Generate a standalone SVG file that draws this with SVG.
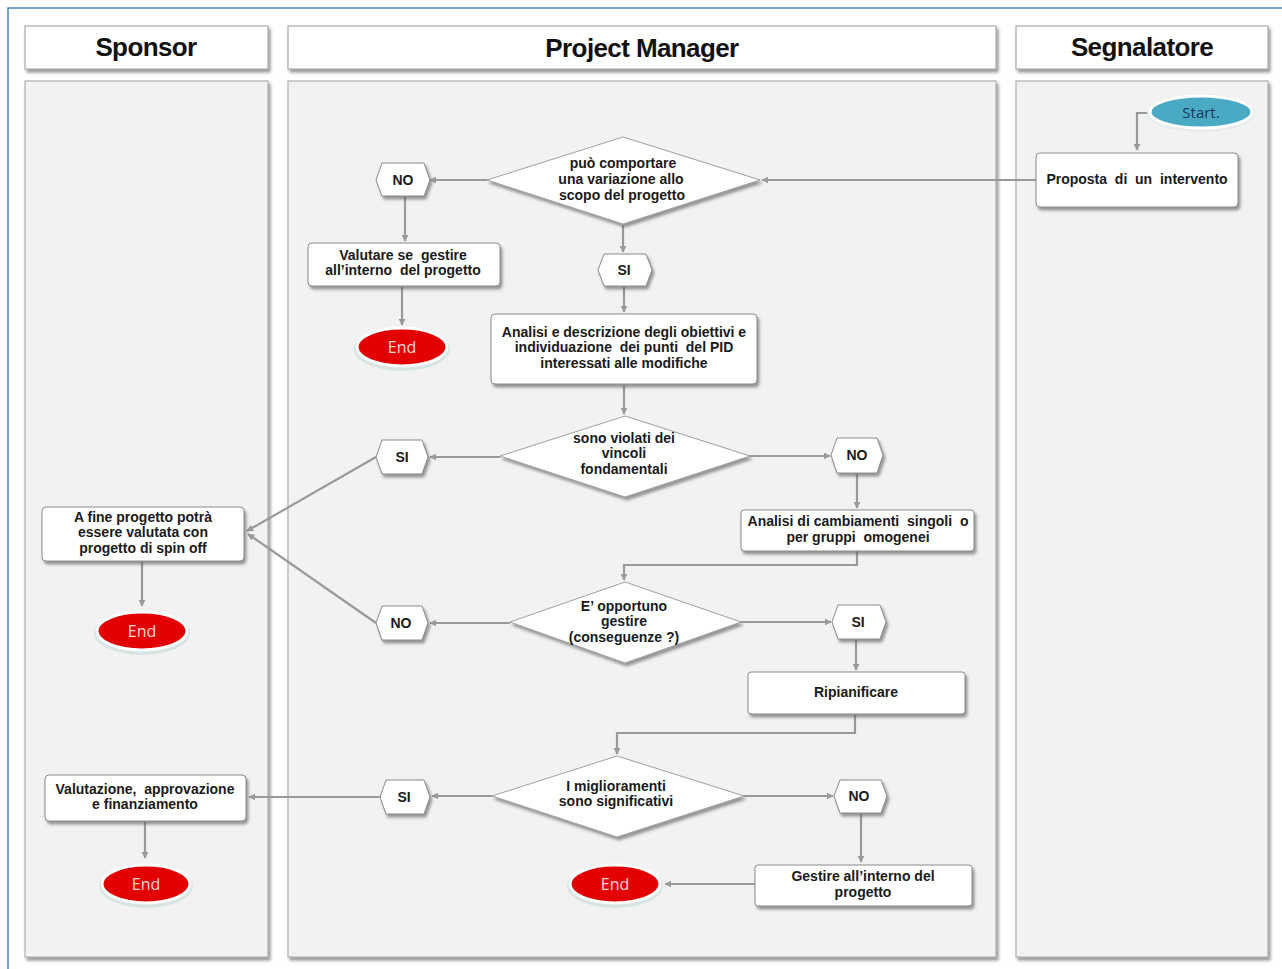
<svg xmlns="http://www.w3.org/2000/svg" width="1282" height="969" viewBox="0 0 1282 969">
<defs>
<filter id="sh" x="-10%" y="-10%" width="130%" height="140%">
<feDropShadow dx="2" dy="3" stdDeviation="1.5" flood-color="#555" flood-opacity="0.6"/>
</filter>
<marker id="ar" viewBox="0 0 10 10" refX="9" refY="5" markerWidth="7" markerHeight="7" orient="auto-start-reverse" markerUnits="userSpaceOnUse">
<path d="M0,0 L10,5 L0,10 z" fill="#9a9a9a"/>
</marker>
<style>
.lane{fill:#f2f2f2;stroke:#b0b0b0;stroke-width:1.2}
.hdr{fill:#fff;stroke:#aaa;stroke-width:1.2}
.ht{font-family:"Liberation Sans",Arial,sans-serif;font-weight:bold;font-size:26px;fill:#111;text-anchor:middle;letter-spacing:-0.6px}
.box{fill:#fff;stroke:#8a8a8a;stroke-width:1}
.dia{fill:#fff;stroke:#a0a0a0;stroke-width:1}
.t{font-family:"Liberation Sans",Arial,sans-serif;font-weight:bold;font-size:14px;fill:#1a1a1a;text-anchor:middle;white-space:pre}
.c{fill:none;stroke:#9a9a9a;stroke-width:2.2;marker-end:url(#ar)}
.end{fill:#e30000;stroke:#fff;stroke-width:3}
.endo{fill:#d8e4e4}
.et{font-family:"Open Sans","Liberation Sans",sans-serif;font-size:16px;fill:#ffd6d6;text-anchor:middle}
</style>
</defs>
<rect x="0" y="0" width="1282" height="969" fill="#fff"/>
<path d="M8,969 L8,8 L1282,8" fill="none" stroke="#4f81bd" stroke-width="1.5"/>

<g id="lanes">
<rect class="lane" x="25" y="81" width="243" height="876" filter="url(#sh)"/>
<rect class="lane" x="288" y="81" width="708" height="876" filter="url(#sh)"/>
<rect class="lane" x="1016" y="81" width="252" height="876" filter="url(#sh)"/>
</g>
<g id="header-sponsor"><rect class="hdr" x="25" y="26" width="243" height="43" filter="url(#sh)"/><text class="ht" x="146" y="56">Sponsor</text></g>
<g id="header-pm"><rect class="hdr" x="288" y="26" width="708" height="43" filter="url(#sh)"/><text class="ht" x="642" y="57">Project Manager</text></g>
<g id="header-segnalatore"><rect class="hdr" x="1016" y="26" width="252" height="43" filter="url(#sh)"/><text class="ht" x="1142" y="56">Segnalatore</text></g>

<g id="connectors">
<path class="c" d="M1150,113 L1137,113 L1137,150"/>
<path class="c" d="M1036,180 L762,180"/>
<path class="c" d="M487,180 L430,180"/>
<path class="c" d="M405,196 L405,241"/>
<path class="c" d="M402,287 L402,325"/>
<path class="c" d="M623,225 L623,252"/>
<path class="c" d="M624,287 L624,312"/>
<path class="c" d="M624,385 L624,414"/>
<path class="c" d="M500,457 L430,457"/>
<path class="c" d="M750,456 L830,456"/>
<path class="c" d="M857,474 L857,508"/>
<path class="c" d="M857,551 L857,565 L624,565 L624,580"/>
<path class="c" d="M510,623 L430,623"/>
<path class="c" d="M741,622 L831,622"/>
<path class="c" d="M856,640 L856,670"/>
<path class="c" d="M855,715 L855,733 L617,733 L617,754"/>
<path class="c" d="M492,796 L432,796"/>
<path class="c" d="M744,796 L833,796"/>
<path class="c" d="M861,814 L861,862"/>
<path class="c" d="M755,884 L665,884"/>
<path class="c" d="M376,457 L247,531"/>
<path class="c" d="M376,623 L248,534"/>
<path class="c" d="M380,797 L249,797"/>
<path class="c" d="M142,562 L142,606"/>
<path class="c" d="M145,822 L145,858"/>
</g>

<g id="start">
<ellipse cx="1201" cy="113" rx="54" ry="19" fill="#e6ecec"/>
<ellipse cx="1201" cy="112" rx="51" ry="16" fill="#4aaac4" stroke="#fff" stroke-width="3"/>
<text x="1201" y="118" font-family="'Open Sans','Liberation Sans',sans-serif" font-size="15" fill="#17375e" text-anchor="middle">Start.</text>
</g>
<g id="proposta">
<rect class="box" x="1036" y="153" width="202" height="54" rx="4" filter="url(#sh)"/>
<text class="t" x="1137" y="184">Proposta  di  un  intervento</text>
</g>
<g id="dec1">
<polygon class="dia" points="623,137 760,180 623,224 487,180" filter="url(#sh)"/>
<text class="t" x="623" y="168">può comportare</text>
<text class="t" x="621" y="184">una variazione allo</text>
<text class="t" x="622" y="200">scopo del progetto</text>
</g>
<g id="no1">
<polygon class="box" points="376,180 382,163 424,163 430,180 424,196 382,196" filter="url(#sh)"/>
<text class="t" x="403" y="185">NO</text>
</g>
<g id="valutare">
<rect class="box" x="308" y="243" width="192" height="43" rx="4" filter="url(#sh)"/>
<text class="t" x="403" y="260">Valutare se  gestire</text>
<text class="t" x="403" y="275">all’interno  del progetto</text>
</g>
<g id="end1">
<ellipse cx="402" cy="349" rx="48" ry="22" class="endo"/>
<ellipse cx="402" cy="347" rx="45" ry="19" class="end"/>
<text class="et" x="402" y="353">End</text>
</g>
<g id="si1">
<polygon class="box" points="598,270 604,254 646,254 652,270 646,286 604,286" filter="url(#sh)"/>
<text class="t" x="624" y="275">SI</text>
</g>
<g id="analisi">
<rect class="box" x="491" y="314" width="266" height="70" rx="4" filter="url(#sh)"/>
<text class="t" x="624" y="337">Analisi e descrizione degli obiettivi e</text>
<text class="t" x="624" y="352">individuazione  dei punti  del PID</text>
<text class="t" x="624" y="368">interessati alle modifiche</text>
</g>
<g id="dec2">
<polygon class="dia" points="625,416 750,456 625,497 500,456" filter="url(#sh)"/>
<text class="t" x="624" y="443">sono violati dei</text>
<text class="t" x="624" y="458">vincoli</text>
<text class="t" x="624" y="474">fondamentali</text>
</g>
<g id="si2">
<polygon class="box" points="376,457 382,440 422,440 428,457 422,474 382,474" filter="url(#sh)"/>
<text class="t" x="402" y="462">SI</text>
</g>
<g id="no2">
<polygon class="box" points="831,455 837,438 877,438 883,455 877,473 837,473" filter="url(#sh)"/>
<text class="t" x="857" y="460">NO</text>
</g>
<g id="analisi-cambiamenti">
<rect class="box" x="741" y="510" width="233" height="41" rx="3" filter="url(#sh)"/>
<text class="t" x="858" y="526">Analisi di cambiamenti  singoli  o</text>
<text class="t" x="858" y="542">per gruppi  omogenei</text>
</g>
<g id="dec3">
<polygon class="dia" points="625,582 741,622 625,663 510,622" filter="url(#sh)"/>
<text class="t" x="624" y="611">E’ opportuno</text>
<text class="t" x="624" y="626">gestire</text>
<text class="t" x="624" y="642">(conseguenze ?)</text>
</g>
<g id="no3">
<polygon class="box" points="376,623 382,606 422,606 428,623 422,640 382,640" filter="url(#sh)"/>
<text class="t" x="401" y="628">NO</text>
</g>
<g id="si3">
<polygon class="box" points="832,622 838,605 880,605 886,622 880,639 838,639" filter="url(#sh)"/>
<text class="t" x="858" y="627">SI</text>
</g>
<g id="ripianificare">
<rect class="box" x="748" y="672" width="217" height="42" rx="3" filter="url(#sh)"/>
<text class="t" x="856" y="697">Ripianificare</text>
</g>
<g id="dec4">
<polygon class="dia" points="617,756 744,796 617,837 492,796" filter="url(#sh)"/>
<text class="t" x="616" y="791">I miglioramenti</text>
<text class="t" x="616" y="806">sono significativi</text>
</g>
<g id="si4">
<polygon class="box" points="380,797 386,780 424,780 430,797 424,814 386,814" filter="url(#sh)"/>
<text class="t" x="404" y="802">SI</text>
</g>
<g id="no4">
<polygon class="box" points="834,796 840,780 881,780 887,796 881,813 840,813" filter="url(#sh)"/>
<text class="t" x="859" y="801">NO</text>
</g>
<g id="gestire">
<rect class="box" x="755" y="865" width="217" height="41" rx="3" filter="url(#sh)"/>
<text class="t" x="863" y="881">Gestire all’interno del</text>
<text class="t" x="863" y="897">progetto</text>
</g>
<g id="end-pm">
<ellipse cx="615" cy="886" rx="48" ry="22" class="endo"/>
<ellipse cx="615" cy="884" rx="45" ry="19" class="end"/>
<text class="et" x="615" y="890">End</text>
</g>
<g id="afine">
<rect class="box" x="42" y="507" width="202" height="54" rx="4" filter="url(#sh)"/>
<text class="t" x="143" y="522">A fine progetto potrà</text>
<text class="t" x="143" y="537">essere valutata con</text>
<text class="t" x="143" y="553">progetto di spin off</text>
</g>
<g id="end-sp1">
<ellipse cx="142" cy="633" rx="48" ry="22" class="endo"/>
<ellipse cx="142" cy="631" rx="45" ry="19" class="end"/>
<text class="et" x="142" y="637">End</text>
</g>
<g id="valutazione">
<rect class="box" x="45" y="775" width="201" height="46" rx="4" filter="url(#sh)"/>
<text class="t" x="145" y="794">Valutazione,  approvazione</text>
<text class="t" x="145" y="809">e finanziamento</text>
</g>
<g id="end-sp2">
<ellipse cx="146" cy="886" rx="47" ry="22" class="endo"/>
<ellipse cx="146" cy="884" rx="44" ry="19" class="end"/>
<text class="et" x="146" y="890">End</text>
</g>
</svg>
